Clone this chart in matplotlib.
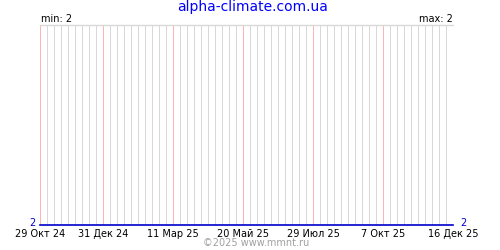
import datetime as dt
import matplotlib
matplotlib.use("Agg")
import matplotlib.pyplot as plt
import matplotlib.dates as mdates

# series: constant value over the whole period
dates = [dt.date(2024, 10, 29), dt.date(2025, 12, 16)]
values = [2, 2]

tick_dates = [dt.date(2024, 10, 29), dt.date(2024, 12, 31), dt.date(2025, 3, 11),
              dt.date(2025, 5, 20), dt.date(2025, 7, 29), dt.date(2025, 10, 7),
              dt.date(2025, 12, 16)]
tick_labels = ["29 Окт 24", "31 Дек 24", "11 Мар 25", "20 Май 25",
               "29 Июл 25", "7 Окт 25", "16 Дек 25"]

title = "alpha-climate.com.ua"
footer = "©2025 www.mmnt.ru"

vmin, vmax = min(values), max(values)

fig = plt.figure(figsize=(5, 2.5), dpi=100)
ax = fig.add_axes([40 / 500, 25 / 250, 413 / 500, 200 / 250])

x0 = mdates.date2num(dates[0])
x1 = mdates.date2num(dates[-1])
ax.set_xlim(x0, x1)
ax.set_ylim(vmin, vmin + 1)

# weekly grid, pink every 10 weeks
week = dates[0]
while week <= dates[-1]:
    if week in tick_dates:
        col = "#ffb4b4"
    else:
        col = "#d8d8d8"
    ax.axvline(mdates.date2num(week), color=col, lw=0.5,
               antialiased=False, zorder=1)
    week += dt.timedelta(days=7)

ax.plot(mdates.date2num(dates), values, color="#0000cc", lw=1.2,
        clip_on=False, zorder=3)

for s in ["left", "right", "bottom"]:
    ax.spines[s].set_visible(False)
ax.spines["top"].set_color("#d8d8d8")
ax.spines["top"].set_linewidth(1.0)

ax.set_xticks([mdates.date2num(t) for t in tick_dates])
ax.set_xticklabels(tick_labels, fontsize=7)
ax.tick_params(axis="x", length=0, pad=3)
ax.set_yticks([])

fig.text(253 / 500, 1 - 7 / 250, title, color="#0000ff", fontsize=10,
         ha="center", va="center")
fig.text(41 / 500, 1 - 19 / 250, "min: %g" % vmin, fontsize=7,
         ha="left", va="center")
fig.text(453 / 500, 1 - 19 / 250, "max: %g" % vmax, fontsize=7,
         ha="right", va="center")
fig.text(35 / 500, 1 - 223 / 250, "%g" % values[0], color="#0000cc",
         fontsize=7, ha="right", va="center")
fig.text(460 / 500, 1 - 223 / 250, "%g" % values[-1], color="#0000cc",
         fontsize=7, ha="left", va="center")
fig.text(256 / 500, 1 - 243 / 250, footer, color="#a0a0a0", fontsize=7,
         ha="center", va="center")

fig.savefig("out.png", dpi=100, facecolor="white")
